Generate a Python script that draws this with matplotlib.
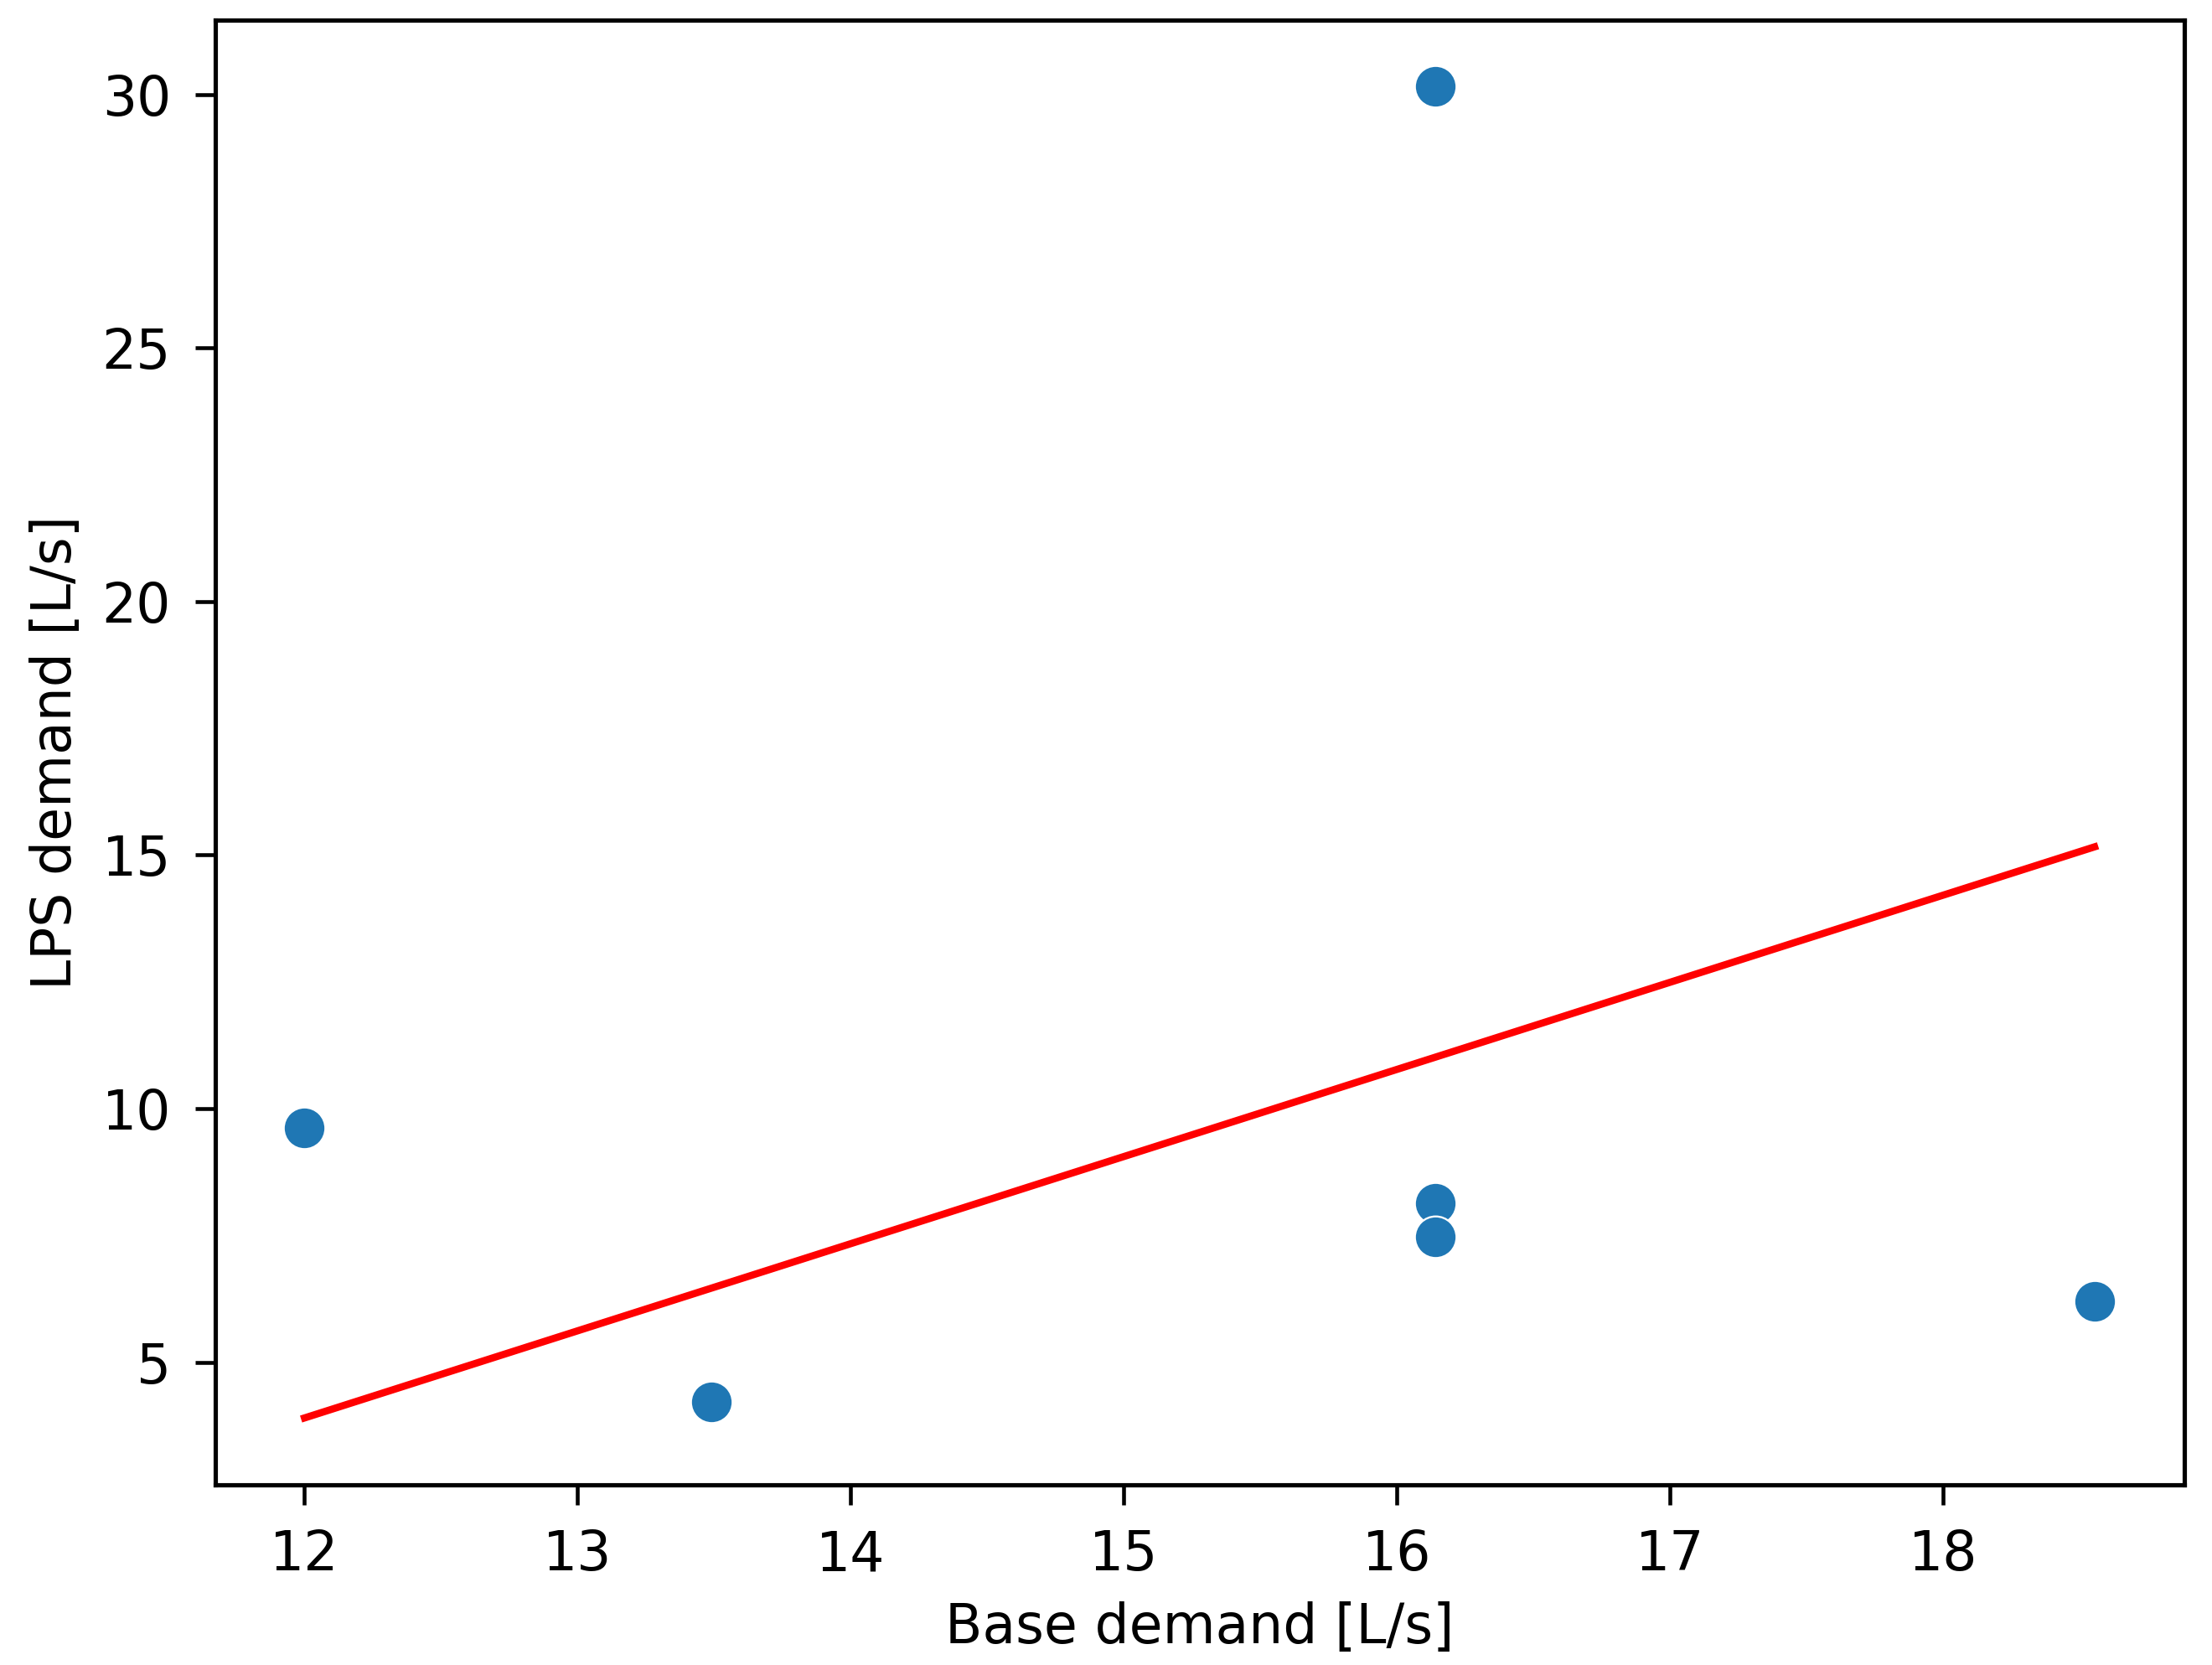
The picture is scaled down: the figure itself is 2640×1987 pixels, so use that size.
import matplotlib
matplotlib.use('Agg')
import matplotlib.pyplot as plt
import numpy as np

# values
base_demand = [12.0, 13.49, 16.14, 16.14, 16.14, 18.555]
lps_demand = [9.62, 4.22, 30.15, 8.14, 7.47, 6.20]

# red line as drawn in the reference (slope / intercept)
line_slope = 1.718
line_intercept = -16.716

plt.rcParams['font.size'] = 11.3
plt.rcParams['xtick.major.size'] = 4.2
plt.rcParams['ytick.major.size'] = 4.2
plt.rcParams['xtick.major.pad'] = 5
plt.rcParams['ytick.major.pad'] = 5
plt.rcParams['axes.linewidth'] = 0.9

fig = plt.figure(figsize=(6.4, 1987 / 412.5), dpi=412.5)
fig.subplots_adjust(left=0.0972, right=0.9874, top=0.9879, bottom=0.1084)
ax = fig.add_subplot(111)

x, y = np.array(base_demand), np.array(lps_demand)
ax.scatter(x, y, s=75, color='#1f77b4', edgecolors='white', linewidths=0.4, zorder=2)
ax.plot(x, line_slope * x + line_intercept, color='red', zorder=3)

ax.set_xlabel('Base demand [L/s]')
ax.set_ylabel('LPS demand [L/s]')

fig.savefig('out.png', dpi=412.5)
